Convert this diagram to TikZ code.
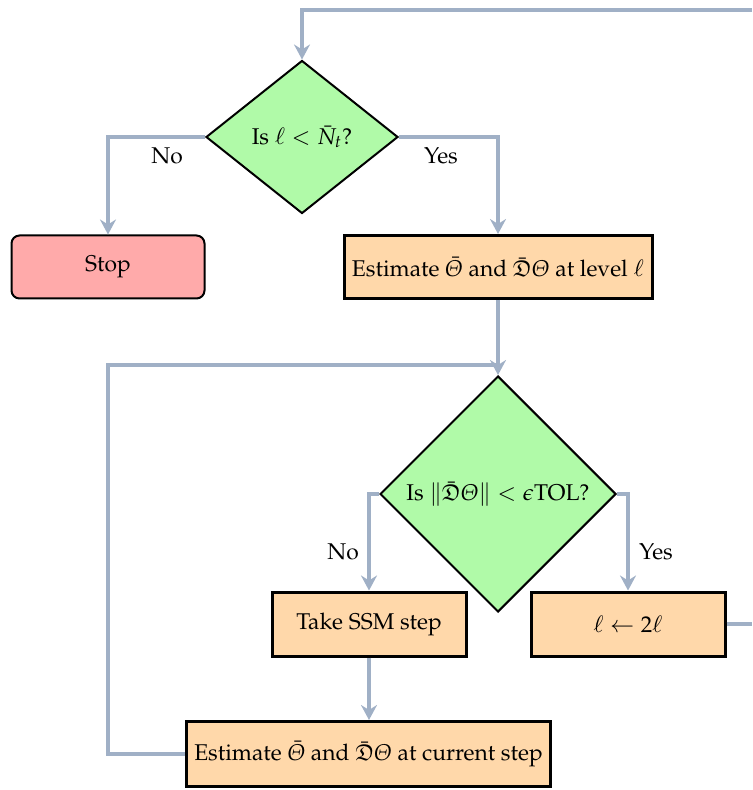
\documentclass[tikz,border=0pt]{standalone}
\usepackage{amsmath}
\usepackage{amssymb}
\usepackage[T1]{fontenc}
\usepackage{mathpazo}
\usetikzlibrary{shapes.geometric,arrows.meta}
\definecolor{flowline}{RGB}{160,176,198}
\definecolor{decfill}{RGB}{176,250,168}
\definecolor{procfill}{RGB}{255,216,170}
\definecolor{stopfill}{RGB}{255,170,170}
\begin{document}
\begin{tikzpicture}[x=0.5pt,y=-0.5pt,
  every node/.style={font=\fontsize{11.4pt}{14pt}\selectfont},
  decision/.style={diamond,draw=black,line width=1pt,fill=decfill,inner sep=0pt,aspect=1},
  process/.style={rectangle,draw=black,line width=1.5pt,fill=procfill,inner sep=0pt},
  terminal/.style={rectangle,rounded corners=4pt,draw=black,line width=1pt,fill=stopfill,inner sep=0pt},
  flow/.style={draw=flowline,line width=2pt,-{Stealth[length=7.5pt,width=8pt,inset=2.5pt]}},
  loopline/.style={draw=flowline,line width=2pt},
  lbl/.style={inner sep=0pt}]
\useasboundingbox (0,0) rectangle (752,790);
\clip (0,0) rectangle (752,790);

% decisions and steps
\node[decision,minimum width=96pt,minimum height=76.5pt] (d1) at (302,137) {Is $\ell < \bar{N}_t$?};
\node[terminal,minimum width=96.5pt,minimum height=31.5pt] (stop) at (108,267) {Stop};
\node[process,minimum width=154pt,minimum height=31.5pt] (estlev) at (498,267)
  {Estimate $\bar{\varTheta}$ and $\bar{\mathfrak{D}}\varTheta$ at level $\ell$};
\node[decision,minimum width=118pt,minimum height=118pt] (d2) at (498,494)
  {Is $\|\bar{\mathfrak{D}}\varTheta\| < \epsilon\mathrm{TOL}$?};
\node[process,minimum width=97pt,minimum height=32pt] (ssm) at (369,624) {Take SSM step};
\node[process,minimum width=97pt,minimum height=32pt] (dbl) at (628,624) {$\ell \leftarrow 2\ell$};
\node[process,minimum width=182pt,minimum height=32.5pt] (estcur) at (368.5,754)
  {Estimate $\bar{\varTheta}$ and $\bar{\mathfrak{D}}\varTheta$ at current step};

% loose ends and bends
\coordinate (topR) at (752,10);
\coordinate (rightR) at (752,624);
\coordinate (loopc) at (108,365);
\coordinate (join) at (498,365);

% connectors
\draw[flow] (topR) -| (d1.north);
\draw[flow] (d1.west) -| (stop.north);
\draw[flow] (d1.east) -| (estlev.north);
\draw[flow] (estlev.south) -- (d2.north);
\draw[loopline] (estcur.west) -| (loopc) -- (join);
\draw[flow] (d2.west) -| (ssm.north);
\draw[flow] (d2.east) -| (dbl.north);
\draw[flow] (ssm.south) -- (ssm.south |- estcur.north);
\draw[loopline] (dbl.east) -- (rightR);

% branch labels
\node[lbl] (no1) at (167,156) {No};
\node[lbl] (yes1) at (441,156) {Yes};
\node[lbl] (no2) at (343,552) {No};
\node[lbl] (yes2) at (656,552) {Yes};
\end{tikzpicture}
\end{document}
